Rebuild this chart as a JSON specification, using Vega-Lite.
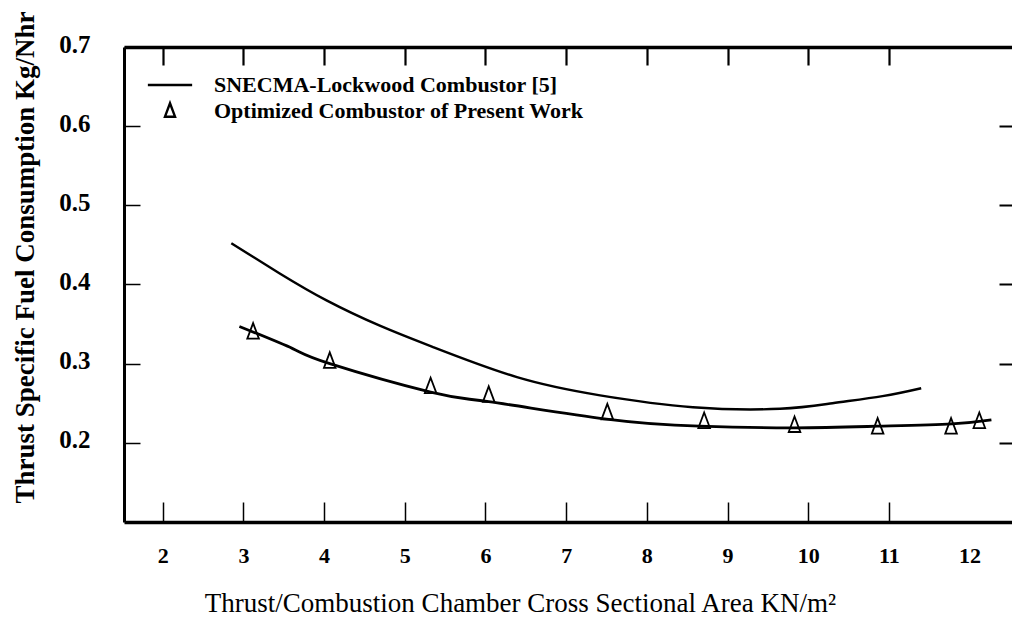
{
  "$schema": "https://vega.github.io/schema/vega-lite/v6.json",
  "width": 890,
  "height": 475,
  "autosize": {"type": "none"},
  "padding": {"left": 124, "top": 47, "right": 0, "bottom": 103},
  "background": "white",
  "config": {
    "view": {"stroke": null},
    "font": "Liberation Serif",
    "axis": {"grid": false, "domainColor": "black", "labelColor": "black", "titleColor": "black", "labelFont": "Liberation Serif", "titleFont": "Liberation Serif"}
  },
  "datasets": {
    "snecma": [
      {"x": 2.85, "y": 0.452}, {"x": 3.45, "y": 0.414}, {"x": 4.03, "y": 0.38}, {"x": 4.69, "y": 0.348},
      {"x": 5.35, "y": 0.321}, {"x": 6.39, "y": 0.283}, {"x": 7.42, "y": 0.26}, {"x": 8.57, "y": 0.245},
      {"x": 9.65, "y": 0.243}, {"x": 10.3, "y": 0.25}, {"x": 10.92, "y": 0.259}, {"x": 11.4, "y": 0.269}
    ],
    "optcurve": [
      {"x": 2.95, "y": 0.347}, {"x": 3.61, "y": 0.319}, {"x": 4.07, "y": 0.3}, {"x": 5.32, "y": 0.264},
      {"x": 6.04, "y": 0.252}, {"x": 7.5, "y": 0.23}, {"x": 8.65, "y": 0.221}, {"x": 9.83, "y": 0.219},
      {"x": 10.86, "y": 0.221}, {"x": 11.78, "y": 0.224}, {"x": 12.27, "y": 0.229}
    ],
    "optpoints": [
      {"series": "Optimized Combustor of Present Work", "x": 3.12, "y": 0.34},
      {"series": "Optimized Combustor of Present Work", "x": 4.07, "y": 0.303},
      {"series": "Optimized Combustor of Present Work", "x": 5.32, "y": 0.271},
      {"series": "Optimized Combustor of Present Work", "x": 6.04, "y": 0.26},
      {"series": "Optimized Combustor of Present Work", "x": 7.51, "y": 0.238},
      {"series": "Optimized Combustor of Present Work", "x": 8.71, "y": 0.227},
      {"series": "Optimized Combustor of Present Work", "x": 9.83, "y": 0.222},
      {"series": "Optimized Combustor of Present Work", "x": 10.86, "y": 0.22},
      {"series": "Optimized Combustor of Present Work", "x": 11.77, "y": 0.22},
      {"series": "Optimized Combustor of Present Work", "x": 12.12, "y": 0.227}
    ]
  },
  "resolve": {"axis": {"x": "independent", "y": "independent"}},
  "layer": [
    {
      "data": {"name": "optcurve"},
      "mark": {"type": "line", "interpolate": "natural", "color": "black", "strokeWidth": 2.8},
      "encoding": {
        "x": {"field": "x", "type": "quantitative", "scale": {"domain": [1.52, 12.55], "nice": false, "zero": false},
          "axis": {"orient": "bottom", "values": [2, 3, 4, 5, 6, 7, 8, 9, 10, 11, 12], "format": "d",
            "domainWidth": 3.5, "tickSize": -20, "tickWidth": 1.5, "tickColor": "black",
            "tickOpacity": {"condition": {"test": "datum.value == 12", "value": 0}, "value": 1},
            "labelFontSize": 22, "labelFontWeight": "bold", "labelPadding": 53, "labelBaseline": "middle",
            "title": "Thrust/Combustion Chamber Cross Sectional Area KN/m²", "titleFontSize": 27, "titleFontWeight": "normal",
            "titleX": 396, "titleY": 81, "titleBaseline": "middle", "titleAnchor": "middle", "titleAlign": "center"}},
        "y": {"field": "y", "type": "quantitative", "scale": {"domain": [0.1, 0.7], "nice": false, "zero": false},
          "axis": {"orient": "left", "values": [0.2, 0.3, 0.4, 0.5, 0.6, 0.7], "format": ".1f",
            "domainWidth": 3, "tickSize": -16, "tickWidth": 1.5, "tickColor": "black",
            "labelFontSize": 25, "labelFontWeight": "bold", "labelPadding": 50, "labelOffset": -3,
            "title": "Thrust Specific Fuel Consumption Kg/Nhr", "titleFontSize": 27, "titleFontWeight": "bold",
            "titleX": -99, "titleY": 210, "titleBaseline": "middle", "titleAlign": "center", "titleAngle": -90}}
      }
    },
    {
      "data": {"name": "snecma"},
      "mark": {"type": "line", "interpolate": "natural", "color": "black", "strokeWidth": 2.4},
      "encoding": {
        "x": {"field": "x", "type": "quantitative",
          "axis": {"orient": "top", "values": [2, 3, 4, 5, 6, 7, 8, 9, 10, 11], "labels": false, "title": null,
            "domain": true, "domainWidth": 3.5, "ticks": true, "tickSize": -18, "tickWidth": 2.2, "tickColor": "black"}},
        "y": {"field": "y", "type": "quantitative",
          "axis": {"orient": "right", "values": [0.2, 0.3, 0.4, 0.5, 0.6], "labels": false, "title": null,
            "domainWidth": 3, "tickSize": -15, "tickWidth": 2, "tickColor": "black"}}
      }
    },
    {
      "data": {"name": "optpoints"},
      "mark": {"type": "point", "filled": false, "stroke": "black", "strokeWidth": 1.8, "size": 240, "opacity": 1},
      "encoding": {
        "x": {"field": "x", "type": "quantitative", "axis": null},
        "y": {"field": "y", "type": "quantitative", "axis": null},
        "shape": {"field": "series", "type": "nominal",
          "scale": {"domain": ["SNECMA-Lockwood Combustor [5]", "Optimized Combustor of Present Work"],
            "range": ["M-3.3,0L3.3,0", "M0,-1.15L0.75,0.85L-0.75,0.85Z"]},
          "legend": {"orient": "none", "legendX": 35, "legendY": 27, "title": null,
            "labelFont": "Liberation Serif", "labelFontSize": 22, "labelFontWeight": "bold", "labelColor": "black", "labelLimit": 0,
            "symbolSize": 180, "symbolStrokeColor": "black", "symbolStrokeWidth": 2.4, "labelOffset": 33}}
      }
    }
  ]
}
